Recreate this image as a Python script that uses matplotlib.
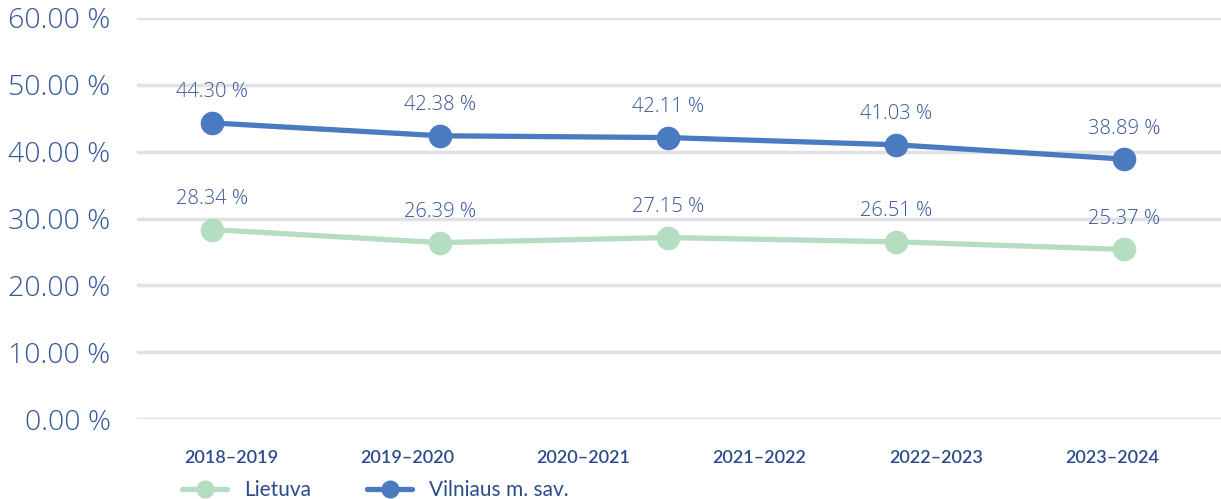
import numpy as np
import matplotlib.pyplot as plt

# school years shown on the axis and the two series
years = ['2018–2019', '2019–2020', '2020–2021', '2021–2022', '2022–2023', '2023–2024']
lietuva = [28.34, 26.39, 27.15, 26.51, 25.37]
vilnius = [44.30, 42.38, 42.11, 41.03, 38.89]

blue = '#4a7bc0'
green = '#b5ddc2'
text_col = '#33559a'
light = ['Open Sans', 'DejaVu Sans']

plt.rcParams['font.family'] = ['Lato', 'DejaVu Sans']

fig = plt.figure(figsize=(12.21, 4.99), dpi=100)
ax = fig.add_axes([137 / 1221, 1 - 419 / 499, 1 - 137 / 1221, 401 / 499])

x = np.arange(len(vilnius))
ax.plot(x, lietuva, color=green, lw=3.8, marker='o', ms=16, label='Lietuva',
        solid_capstyle='round', zorder=3)
ax.plot(x, vilnius, color=blue, lw=3.8, marker='o', ms=16, label='Vilniaus m. sav.',
        solid_capstyle='round', zorder=3)

for xi, v in zip(x, lietuva):
    ax.annotate(f'{v:.2f} %', (xi, v), xytext=(0, 22), textcoords='offset points',
                ha='center', va='center', fontsize=14.5, color=text_col,
                family=light, fontweight='light')
for xi, v in zip(x, vilnius):
    ax.annotate(f'{v:.2f} %', (xi, v), xytext=(0, 22), textcoords='offset points',
                ha='center', va='center', fontsize=14.5, color=text_col,
                family=light, fontweight='light')

ax.set_ylim(0, 60)
ax.set_xlim(-0.329, 4.425)
ax.set_yticks(np.arange(0, 61, 10))
ax.set_yticklabels([f'{t:.2f} %' for t in np.arange(0, 61, 10)], fontsize=20.5,
                   color=text_col, family=light, fontweight='light')
ax.set_xticks(np.linspace(0.083, 3.947, len(years)))
ax.set_xticklabels(years, fontsize=13, color='#2b4c8c', fontweight='semibold')
ax.tick_params(axis='y', length=0, pad=19)
ax.tick_params(axis='x', length=0, pad=22)

ax.grid(axis='y', color='#e1e1e5', lw=2.5)
ax.set_axisbelow(True)
for s in ax.spines.values():
    s.set_visible(False)

fig.legend(loc='center left', bbox_to_anchor=(172 / 1221, 1 - 490 / 499), ncol=2,
           frameon=False, fontsize=15, borderpad=0, handlelength=2.15,
           handletextpad=0.8, columnspacing=2.7, markerscale=0.75,
           labelcolor='#2b4c8c')

fig.savefig('out.png', dpi=100)
